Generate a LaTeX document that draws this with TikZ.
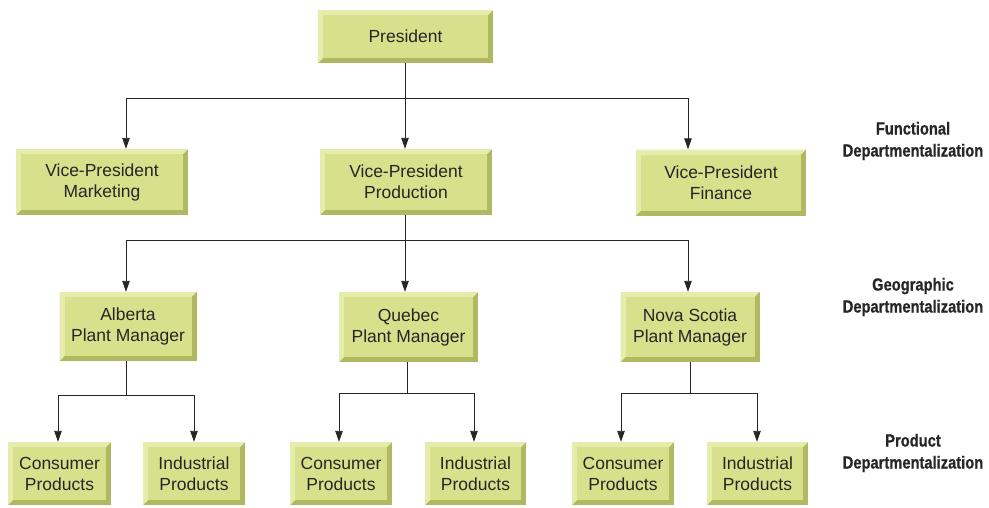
\documentclass[tikz,border=0pt]{standalone}
\usepackage{fontspec}
\setmainfont{Liberation Sans}
\newfontfamily\labelfont[FakeStretch=0.84,FakeBold=0.6]{Liberation Sans}
\usetikzlibrary{arrows.meta}
\definecolor{boxface}{HTML}{D8E08C}
\definecolor{boxlight}{HTML}{E6ECAC}
\definecolor{boxdark}{HTML}{B0B862}
\tikzset{
  unit/.style={rectangle, inner sep=0pt, align=center, fill=boxdark,
    font=\fontsize{17.5}{21}\selectfont, text=black!85,
    path picture={
      \fill[boxlight] (path picture bounding box.north west) -- (path picture bounding box.north east)
        -- ([xshift=-5pt,yshift=-5pt]path picture bounding box.north east)
        -- ([xshift=5pt,yshift=5pt]path picture bounding box.south west)
        -- (path picture bounding box.south west) -- cycle;
      \fill[boxface] ([xshift=5pt,yshift=-5pt]path picture bounding box.north west)
        rectangle ([xshift=-5pt,yshift=5pt]path picture bounding box.south east);
    }},
  link/.style={line width=0.9pt, black!85},
  arr/.style={link, -{Triangle[length=11pt,width=7.5pt]}},
  level/.style={font=\labelfont\bfseries\fontsize{17.5}{22}\selectfont, align=center, text=black!85}
}
\begin{document}
\begin{tikzpicture}[x=1pt,y=-1pt]
\useasboundingbox (0,0) rectangle (989,507);

% top
\node[unit, minimum width=175pt, minimum height=53pt] (pres) at (405.5,36.5) {President};

% functional level
\node[unit, minimum width=172pt, minimum height=66pt] (vpm) at (102,182) {Vice-President\\Marketing};
\node[unit, minimum width=172pt, minimum height=66pt] (vpp) at (406,182) {Vice-President\\Production};
\node[unit, minimum width=170pt, minimum height=66pt] (vpf) at (721,182.5) {Vice-President\\Finance};

% geographic level
\node[unit, minimum width=137pt, minimum height=69pt] (alb) at (128,326.5) {Alberta\\Plant Manager};
\node[unit, minimum width=139pt, minimum height=70pt] (que) at (408.5,327) {Quebec\\Plant Manager};
\node[unit, minimum width=139pt, minimum height=70pt] (nsc) at (690,327) {Nova Scotia\\Plant Manager};

% product level
\node[unit, minimum width=103pt, minimum height=63pt] (albc) at (59.5,473.5) {Consumer\\Products};
\node[unit, minimum width=102pt, minimum height=63pt] (albi) at (194,473.5) {Industrial\\Products};
\node[unit, minimum width=102pt, minimum height=63pt] (quec) at (341,473.5) {Consumer\\Products};
\node[unit, minimum width=101pt, minimum height=63pt] (quei) at (475.5,473.5) {Industrial\\Products};
\node[unit, minimum width=102pt, minimum height=63pt] (nscc) at (623,473.5) {Consumer\\Products};
\node[unit, minimum width=101pt, minimum height=63pt] (nsci) at (757.5,473.5) {Industrial\\Products};

% level captions
\node[level] (lfun) at (913,141) {Functional\\Departmentalization};
\node[level] (lgeo) at (913,297) {Geographic\\Departmentalization};
\node[level] (lprod) at (913,453) {Product\\Departmentalization};

% connectors
\coordinate (bus1) at (405,98);
\coordinate (bus2) at (405,240);
\coordinate (bus3a) at (126,395);
\coordinate (bus3b) at (407,393);
\coordinate (bus3c) at (690,393);

\draw[link] (pres.south -| bus1) -- (bus1);
\draw[link] (bus1 -| 126,0) -- (bus1 -| 688,0);
\draw[arr] (bus1 -| 126,0) -- (vpm.north -| 126,0);
\draw[arr] (bus1) -- (vpp.north -| bus1);
\draw[arr] (bus1 -| 688,0) -- (vpf.north -| 688,0);

\draw[link] (vpp.south -| bus2) -- (bus2);
\draw[link] (bus2 -| 126,0) -- (bus2 -| 688,0);
\draw[arr] (bus2 -| 126,0) -- (alb.north -| 126,0);
\draw[arr] (bus2) -- (que.north -| bus2);
\draw[arr] (bus2 -| 688,0) -- (nsc.north -| 688,0);

\draw[link] (alb.south -| bus3a) -- (bus3a);
\draw[link] (bus3a -| 58,0) -- (bus3a -| 194,0);
\draw[arr] (bus3a -| 58,0) -- (albc.north -| 58,0);
\draw[arr] (bus3a -| 194,0) -- (albi.north -| 194,0);

\draw[link] (que.south -| bus3b) -- (bus3b);
\draw[link] (bus3b -| 339,0) -- (bus3b -| 474,0);
\draw[arr] (bus3b -| 339,0) -- (quec.north -| 339,0);
\draw[arr] (bus3b -| 474,0) -- (quei.north -| 474,0);

\draw[link] (nsc.south -| bus3c) -- (bus3c);
\draw[link] (bus3c -| 621,0) -- (bus3c -| 757,0);
\draw[arr] (bus3c -| 621,0) -- (nscc.north -| 621,0);
\draw[arr] (bus3c -| 757,0) -- (nsci.north -| 757,0);
\end{tikzpicture}
\end{document}
